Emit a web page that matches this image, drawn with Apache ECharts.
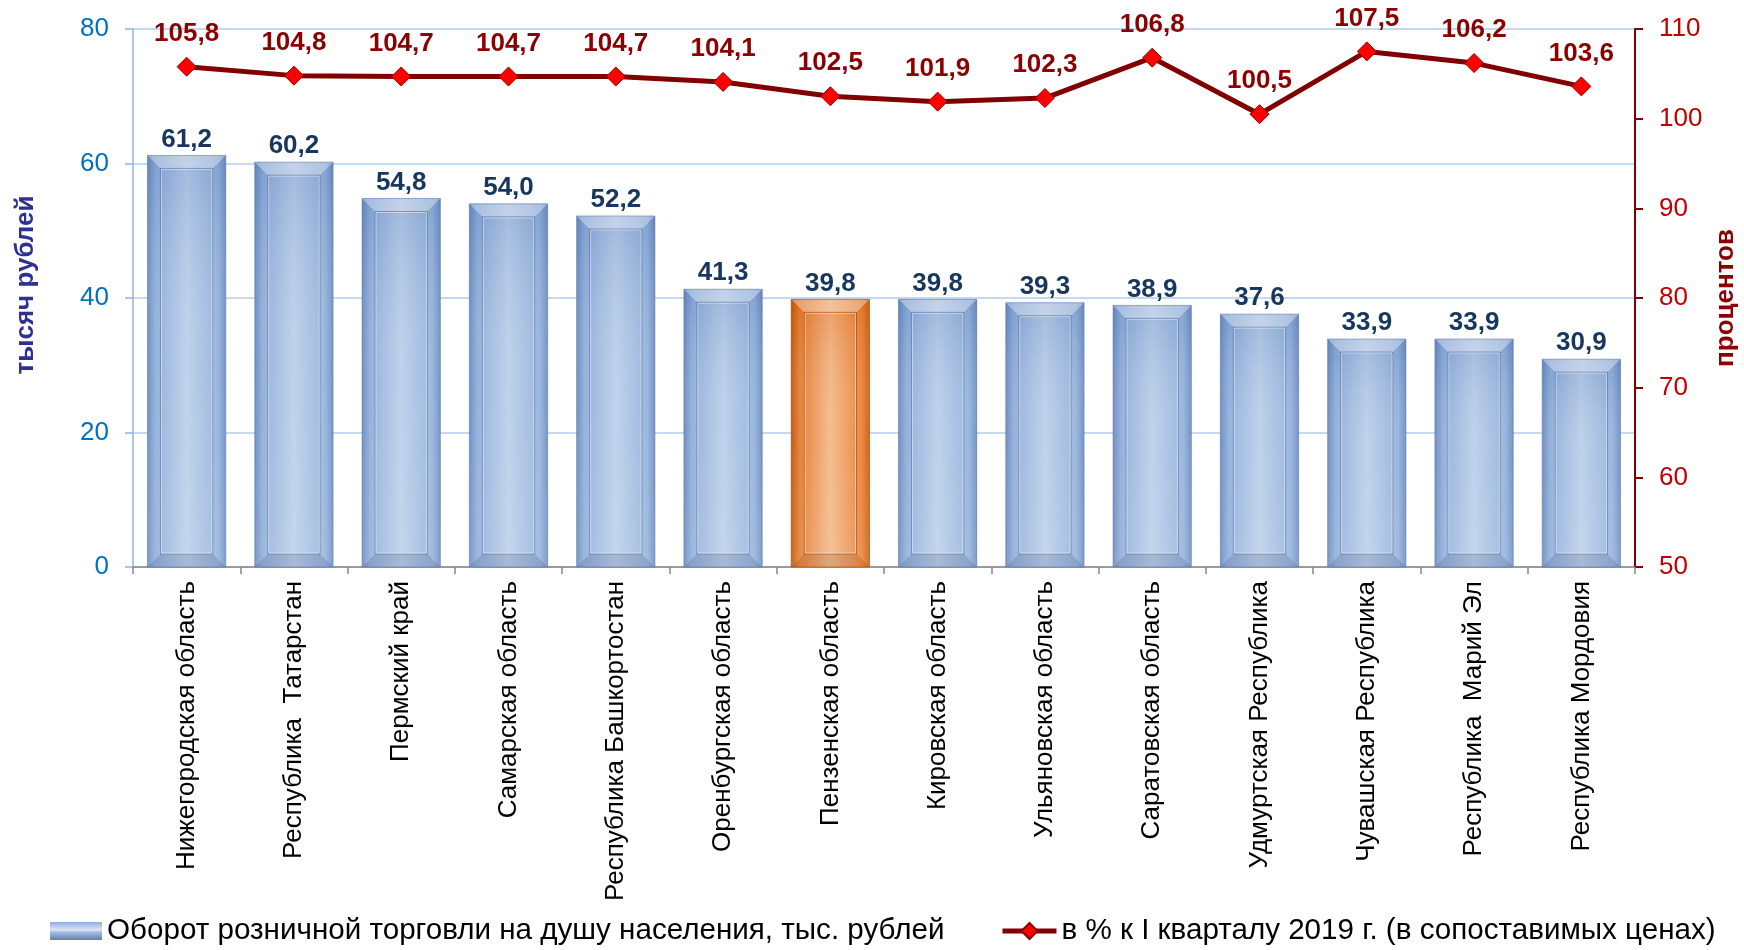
<!DOCTYPE html>
<html>
<head>
<meta charset="utf-8">
<script src="https://cdn.jsdelivr.net/npm/echarts@6/dist/echarts.min.js"></script>
<style>
html,body{margin:0;padding:0;background:#fff;}
#chart{width:1744px;height:950px;}
</style>
</head>
<body>
<div id="chart"></div>
<script>
const categories = [
  'Нижегородская область',
  'Республика  Татарстан',
  'Пермский край',
  'Самарская область',
  'Республика Башкортостан',
  'Оренбургская область',
  'Пензенская область',
  'Кировская область',
  'Ульяновская область',
  'Саратовская область',
  'Удмуртская Республика',
  'Чувашская Республика',
  'Республика  Марий Эл',
  'Республика Мордовия'
];
const turnoverValues = [61.2, 60.2, 54.8, 54.0, 52.2, 41.3, 39.8, 39.8, 39.3, 38.9, 37.6, 33.9, 33.9, 30.9];
const percentValues = [105.8, 104.8, 104.7, 104.7, 104.7, 104.1, 102.5, 101.9, 102.3, 106.8, 100.5, 107.5, 106.2, 103.6];
const leftTicks = [0, 20, 40, 60, 80];
const rightTicks = [50, 60, 70, 80, 90, 100, 110];
const barName = 'Оборот розничной торговли на душу населения, тыс. рублей';
const lineName = 'в % к I кварталу 2019 г. (в сопоставимых ценах)';
const highlightName = 'Пензенская область';

const FONT = '"Liberation Sans", Arial, sans-serif';
const highlightIndex = categories.indexOf(highlightName);
const BAR_RATIO = 0.73;

function fmt(v) { return v.toFixed(1).replace('.', ','); }

const blueGrad = new echarts.graphic.LinearGradient(0, 0, 1, 0, [
  {offset: 0, color: '#6A8BBD'},
  {offset: 0.1, color: '#8FAEDA'},
  {offset: 0.5, color: '#BDD0EA'},
  {offset: 0.9, color: '#95B3DC'},
  {offset: 1, color: '#7090C2'}
]);
const orangeGrad = new echarts.graphic.LinearGradient(0, 0, 1, 0, [
  {offset: 0, color: '#B9550F'},
  {offset: 0.1, color: '#E57A2C'},
  {offset: 0.5, color: '#F3BA8A'},
  {offset: 0.9, color: '#EA8238'},
  {offset: 1, color: '#C95F0E'}
]);
const legendBarGrad = new echarts.graphic.LinearGradient(0, 0, 0, 1, [
  {offset: 0, color: '#8FAEDA'},
  {offset: 0.45, color: '#DCE7F5'},
  {offset: 0.55, color: '#A9C0E2'},
  {offset: 1, color: '#5F80B0'}
]);

const barData = turnoverValues.map((v, i) => ({
  value: v,
  itemStyle: {color: i === highlightIndex ? orangeGrad : blueGrad}
}));

const chart = echarts.init(document.getElementById('chart'));
chart.setOption({
  animation: false,
  backgroundColor: '#fff',
  textStyle: {fontFamily: FONT},
  grid: {left: 133, right: 109, top: 29, bottom: 383, containLabel: false, outerBoundsMode: 'none'},
  legend: [
    {
      data: [{name: barName, itemStyle: {color: legendBarGrad}}], left: 50, top: 916, padding: 0,
      itemWidth: 52, itemHeight: 18, icon: 'rect',
      textStyle: {fontSize: 29.6, color: '#000', fontFamily: FONT}
    },
    {
      data: [{name: lineName}], left: 1000, top: 916, padding: 0,
      itemWidth: 54, itemHeight: 20,
      lineStyle: {width: 5, color: '#800000'},
      textStyle: {fontSize: 29.6, color: '#000', fontFamily: FONT}
    }
  ],
  xAxis: {
    type: 'category',
    data: categories,
    boundaryGap: true,
    axisLine: {show: true, lineStyle: {color: '#868686', width: 1.5}},
    axisTick: {show: true, alignWithLabel: false, length: 7, lineStyle: {color: '#868686', width: 1.5}},
    axisLabel: {rotate: 90, fontSize: 26, color: '#000', margin: 14, fontFamily: FONT, interval: 0},
    splitLine: {show: false}
  },
  yAxis: [
    {
      type: 'value', min: leftTicks[0], max: leftTicks[leftTicks.length - 1], interval: leftTicks[1] - leftTicks[0],
      position: 'left',
      name: 'тысяч рублей', nameLocation: 'middle', nameGap: 94, nameRotate: 90,
      nameTextStyle: {fontSize: 26, fontWeight: 'bold', color: '#2E3192', fontFamily: FONT, padding: [0, 0, 0, 26]},
      axisLine: {show: true, lineStyle: {color: '#8EB4E3', width: 1.5}},
      axisTick: {show: true, length: 8, lineStyle: {color: '#8EB4E3', width: 1.5}},
      axisLabel: {fontSize: 26, color: '#0070C0', margin: 24, fontFamily: FONT},
      splitLine: {show: true, lineStyle: {color: '#C6D9F1', width: 2}}
    },
    {
      type: 'value', min: rightTicks[0], max: rightTicks[rightTicks.length - 1], interval: rightTicks[1] - rightTicks[0],
      position: 'right',
      name: 'процентов', nameLocation: 'middle', nameGap: 77, nameRotate: 90,
      nameTextStyle: {fontSize: 26, fontWeight: 'bold', color: '#8B0000', fontFamily: FONT},
      axisLine: {show: true, lineStyle: {color: '#800000', width: 2}},
      axisTick: {show: true, length: 8, lineStyle: {color: '#800000', width: 2}},
      axisLabel: {fontSize: 26, color: '#C00000', margin: 24, fontFamily: FONT},
      splitLine: {show: false}
    }
  ],
  series: [
    {
      name: barName,
      type: 'bar',
      yAxisIndex: 0,
      barWidth: (BAR_RATIO * 100) + '%',
      data: barData,
      itemStyle: {color: blueGrad},
      label: {
        show: true, position: 'top', distance: 3,
        fontSize: 26, fontWeight: 'bold', color: '#17375E', fontFamily: FONT,
        formatter: p => fmt(p.value)
      },
      z: 2
    },
    {
      name: 'decor',
      type: 'custom',
      yAxisIndex: 0,
      silent: true,
      z: 3,
      data: turnoverValues.map((v, i) => [i, v]),
      encode: {x: 0, y: 1},
      renderItem: function (params, api) {
        const i = api.value(0), v = api.value(1);
        const top = api.coord([i, v]);
        const base = api.coord([i, 0]);
        const w = api.size([1, 0])[0] * BAR_RATIO;
        const x = top[0] - w / 2, y = top[1], h = base[1] - top[1];
        const ins = 13;
        const orange = i === highlightIndex;
        const lineCol = orange ? 'rgba(150,60,5,0.55)' : 'rgba(70,100,150,0.5)';
        return {
          type: 'group',
          children: [
            {type: 'rect', shape: {x: x, y: y, width: w, height: h},
              style: {fill: new echarts.graphic.LinearGradient(0, 0, 0, 1, [
                {offset: 0, color: orange ? 'rgba(200,80,0,0.25)' : 'rgba(60,100,170,0.22)'},
                {offset: 0.5, color: 'rgba(255,255,255,0.05)'},
                {offset: 1, color: 'rgba(255,255,255,0.12)'}
              ])}},
            {type: 'polygon', shape: {points: [[x, y], [x + w, y], [x + w - ins, y + ins], [x + ins, y + ins]]},
              style: {fill: 'rgba(255,255,255,0.35)'}},
            {type: 'polygon', shape: {points: [[x, y + h], [x + w, y + h], [x + w - ins, y + h - ins], [x + ins, y + h - ins]]},
              style: {fill: orange ? 'rgba(120,50,0,0.18)' : 'rgba(40,60,110,0.18)'}},
            {type: 'rect', shape: {x: x + ins, y: y + ins, width: w - 2 * ins, height: Math.max(0, h - 2 * ins)},
              style: {fill: 'none', stroke: lineCol, lineWidth: 1}},
            {type: 'rect', shape: {x: x + ins + 1, y: y + ins + 1, width: w - 2 * ins - 2, height: Math.max(0, h - 2 * ins - 2)},
              style: {fill: 'none', stroke: 'rgba(255,255,255,0.45)', lineWidth: 1}},
            {type: 'rect', shape: {x: x, y: y, width: w, height: h},
              style: {fill: 'none', stroke: orange ? 'rgba(170,70,0,0.6)' : 'rgba(80,110,160,0.5)', lineWidth: 1}}
          ]
        };
      }
    },
    {
      name: lineName,
      type: 'line',
      yAxisIndex: 1,
      data: percentValues,
      symbol: 'diamond',
      symbolSize: 19,
      lineStyle: {color: '#800000', width: 5},
      itemStyle: {color: '#FF0000', borderColor: '#8B0000', borderWidth: 1},
      label: {
        show: true, position: 'top', distance: 10,
        fontSize: 26, fontWeight: 'bold', color: '#8B0000', fontFamily: FONT,
        formatter: p => fmt(p.value)
      },
      z: 5
    }
  ]
});
</script>
</body>
</html>
